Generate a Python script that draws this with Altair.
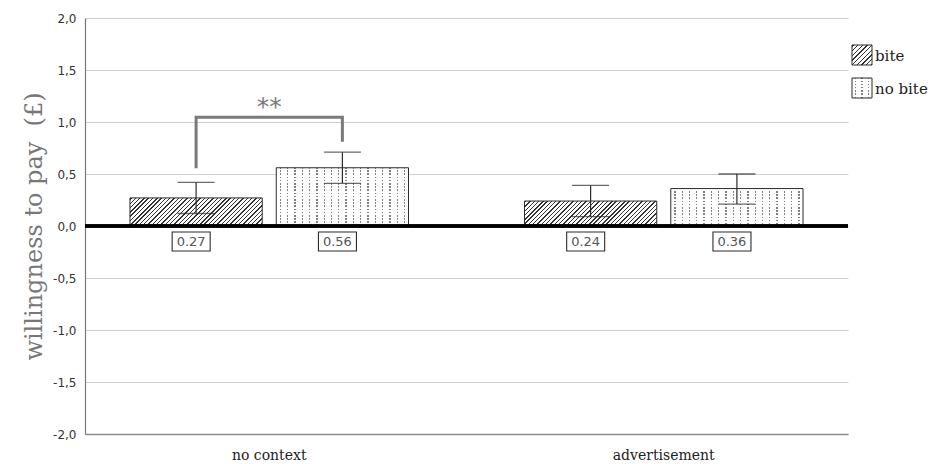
import math
import altair as alt
import pandas as pd

# ---------------- data ----------------
groups = ["no context", "advertisement"]
conds = ["bite", "no bite"]
bar_group = ["no context", "no context", "advertisement", "advertisement"]
bar_cond = ["bite", "no bite", "bite", "no bite"]
means = [0.27, 0.56, 0.24, 0.36]
err_low = [0.12, 0.41, 0.09, 0.21]
err_high = [0.42, 0.71, 0.39, 0.50]
value_labels = ["0.27", "0.56", "0.24", "0.36"]

# significance bracket (no context: bite vs no bite)
br_cond = ["bite", "bite", "no bite", "no bite"]
br_y = [0.555, 1.045, 1.045, 0.81]
sig_text = "**"
sig_y = 1.14

y_ticks = [-2.0, -1.5, -1.0, -0.5, 0.0, 0.5, 1.0, 1.5, 2.0]
y_title = "willingness to pay \u00a0(£)"

# ---------------- layout / style ----------------
W, H = 763, 416
PX_PER_UNIT = H / 4.0
OUT_PAD, IN_PAD = 0.114, 0.294
SUB_PAD = 0.096
step = W / (2 - IN_PAD + 2 * OUT_PAD)
band = step * (1 - IN_PAD)
bar_w = band / (2 - SUB_PAD) * (1 - SUB_PAD)

SERIF = "DejaVu Serif"
SANS = "DejaVu Sans"
INK = "#2b2b2b"


def hatch(wpx, hpx, spacing=3.05, lw=1.0, fg="#333333", bg="#ffffff"):
    r = hpx / wpx
    k = (1 + r) / (1 + r * r)
    L = (wpx + hpx) / math.sqrt(2)
    stops = []
    n = int(L / spacing) + 1
    for i in range(n):
        t0 = (i * spacing + 0.6) / L
        t1 = t0 + lw / L
        if t1 >= 1:
            break
        stops += [
            {"offset": round(t0, 5), "color": bg},
            {"offset": round(t0, 5), "color": fg},
            {"offset": round(t1, 5), "color": fg},
            {"offset": round(t1, 5), "color": bg},
        ]
    return {"gradient": "linear", "x1": 0, "y1": 0, "x2": k, "y2": k * r, "stops": stops}


def stripes(length, spacing, lw, fg, bg, vertical_lines=True, start=3.0):
    stops = []
    t = start
    while t + lw < length:
        t0 = t / length
        t1 = (t + lw) / length
        stops += [
            {"offset": round(t0, 5), "color": bg},
            {"offset": round(t0, 5), "color": fg},
            {"offset": round(t1, 5), "color": fg},
            {"offset": round(t1, 5), "color": bg},
        ]
        t += spacing
    if vertical_lines:
        return {"gradient": "linear", "x1": 0, "y1": 0, "x2": 1, "y2": 0, "stops": stops}
    return {"gradient": "linear", "x1": 0, "y1": 0, "x2": 0, "y2": 1, "stops": stops}


def dot_cols(wpx):
    return stripes(wpx, 7.3, 1.3, "#808080", "#ffffff", True, 3.5)


def dot_mask(hpx):
    return stripes(hpx, 3.2, 1.7, "#ffffff", "rgba(255,255,255,0)", False, 0.8)


df = pd.DataFrame({
    "group": bar_group,
    "cond": bar_cond,
    "mean": means,
    "lo": err_low,
    "hi": err_high,
    "label": value_labels,
})
df["key"] = [f"{g}|{c}" for g, c in zip(bar_group, bar_cond)]

x_axis = alt.Axis(title=None, labelAngle=0, ticks=False, domain=True,
                  domainColor="#8c8c8c", domainWidth=1.6, grid=False,
                  labelFont=SERIF, labelFontSize=14, labelColor="#222222",
                  labelPadding=14)
x_scale = alt.Scale(domain=groups, paddingInner=IN_PAD, paddingOuter=OUT_PAD)
xo_scale = alt.Scale(domain=conds, paddingInner=SUB_PAD, paddingOuter=0)
y_scale = alt.Scale(domain=[-2, 2], nice=False, zero=False)
y_axis = alt.Axis(values=y_ticks, title=y_title, grid=True,
                  gridColor="#d0d0d0", gridWidth=1.2,
                  ticks=False, domain=True, domainColor="#777777",
                  domainWidth=1.2,
                  labelExpr="(datum.value < 0 ? '-' : '') + replace(format(abs(datum.value), '.1f'), '.', ',')",
                  labelFont=SANS, labelFontSize=12, labelColor="#333333",
                  labelPadding=9,
                  titleFont=SERIF, titleFontSize=24, titleFontWeight="normal",
                  titleColor="#777777", titlePadding=6)


def X():
    return alt.X("group:N", sort=groups, scale=x_scale, axis=x_axis)


def XO():
    return alt.XOffset("cond:N", sort=conds, scale=xo_scale)


def Y(field):
    return alt.Y(field, scale=y_scale, axis=y_axis)


layers = []

# pattern-filled bars
for i, key in enumerate(df["key"]):
    hpx = abs(means[i]) * PX_PER_UNIT
    base = alt.Chart(df).transform_filter(alt.datum.key == key)
    enc = dict(x=X(), xOffset=XO(), y=Y("mean:Q"))
    if bar_cond[i] == "bite":
        layers.append(base.mark_bar(fill=hatch(bar_w, hpx), strokeWidth=0).encode(**enc))
    else:
        layers.append(base.mark_bar(fill=dot_cols(bar_w), strokeWidth=0).encode(**enc))
        layers.append(base.mark_bar(fill=dot_mask(hpx), strokeWidth=0).encode(**enc))

# bar outlines
layers.append(
    alt.Chart(df).mark_bar(fillOpacity=0, stroke=INK, strokeWidth=1).encode(
        x=X(), xOffset=XO(), y=Y("mean:Q"))
)

# zero line
layers.append(
    alt.Chart(df).mark_rule(color="#000000", strokeWidth=3.2).encode(
        y=alt.datum(0, scale=y_scale, axis=y_axis))
)

# error bars
layers.append(
    alt.Chart(df).mark_rule(color=INK, strokeWidth=1.2).encode(
        x=X(), xOffset=XO(), y=Y("lo:Q"), y2="hi:Q")
)
for fld in ["lo", "hi"]:
    layers.append(
        alt.Chart(df).mark_tick(color=INK, thickness=1.3, size=37, orient="horizontal").encode(
            x=X(), xOffset=XO(), y=Y(f"{fld}:Q"))
    )

# value label boxes (rectangle symbol, shifted slightly left of bar centre)
box_path = "M-1.26,-0.5L0.74,-0.5L0.74,0.5L-1.26,0.5Z"
layers.append(
    alt.Chart(df).mark_point(shape=box_path, size=38 * 38, filled=True, fill="white",
                             stroke=INK, strokeWidth=1.1, opacity=1).encode(
        x=X(), xOffset=XO(), y=alt.value(H / 2 + 15.5))
)
layers.append(
    alt.Chart(df).mark_text(font=SANS, fontSize=13, color="#555555", baseline="middle",
                            dx=-5).encode(
        x=X(), xOffset=XO(), y=alt.value(H / 2 + 16), text="label:N")
)

# significance bracket
br_df = pd.DataFrame({"group": ["no context"] * 4, "cond": br_cond, "y": br_y,
                      "order": list(range(4))})
layers.append(
    alt.Chart(br_df).mark_line(color="#7a7a7a", strokeWidth=3, strokeJoin="miter").encode(
        x=X(), xOffset=XO(), y=Y("y:Q"), order="order:Q")
)
sig_df = pd.DataFrame({"group": ["no context"], "y": [sig_y], "t": [sig_text]})
layers.append(
    alt.Chart(sig_df).mark_text(font=SANS, fontSize=25, color="#7a7a7a", baseline="middle").encode(
        x=X(), y=Y("y:Q"), text="t:N")
)

# custom legend
leg_x0 = W + 4
leg_items = [(conds[0], 27, hatch(20, 20, spacing=3.3)), (conds[1], 60, None)]
for name, top, grad in leg_items:
    one = pd.DataFrame({"name": [name]})
    pos = dict(x=alt.value(leg_x0), x2=alt.value(leg_x0 + 20),
               y=alt.value(top), y2=alt.value(top + 20))
    if grad is not None:
        layers.append(alt.Chart(one).mark_rect(fill=grad).encode(**pos))
    else:
        layers.append(alt.Chart(one).mark_rect(fill=stripes(20, 6.5, 1.3, "#808080", "#ffffff", True, 3)).encode(**pos))
        layers.append(alt.Chart(one).mark_rect(fill=stripes(20, 3.2, 1.7, "#ffffff", "rgba(255,255,255,0)", False, 0.8)).encode(**pos))
    layers.append(alt.Chart(one).mark_rect(fillOpacity=0, stroke=INK, strokeWidth=1).encode(**pos))
    layers.append(
        alt.Chart(one).mark_text(font=SERIF, fontSize=15, color="#222222", align="left",
                                 baseline="middle").encode(
            x=alt.value(leg_x0 + 23), y=alt.value(top + 11), text="name:N")
    )

chart = alt.layer(*layers).properties(
    width=W, height=H,
    autosize=alt.AutoSizeParams(type="none"),
    padding={"left": 77, "top": 10, "right": 80, "bottom": 30},
).configure_view(stroke=None)

chart.save("out.html", embed_options={"renderer": "svg", "actions": False})
